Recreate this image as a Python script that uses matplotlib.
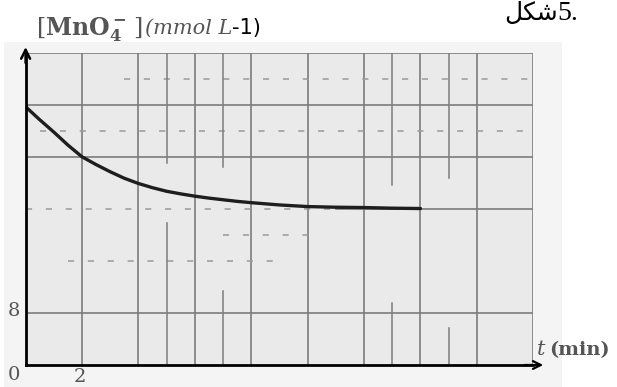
import numpy as np
import matplotlib
matplotlib.use("Agg")
import matplotlib.pyplot as plt
from matplotlib.patches import Rectangle

# data
t_min = [0, 0.5, 1, 1.5, 2, 2.5, 3, 3.5, 4, 4.5, 5, 5.5, 6, 6.5, 7, 7.5, 8,
         9, 10, 11, 12, 13, 14]
conc = [39.7, 37.7, 35.8, 33.8, 32.0, 30.8, 29.7, 28.7, 27.9, 27.25, 26.7, 26.3,
        25.95, 25.65, 25.4, 25.15, 24.95, 24.6, 24.35, 24.25, 24.2, 24.1, 24.05]

x_major = [2, 4, 6, 8, 10, 12, 14, 16, 18]
y_solid = [8, 32, 40, 48]
# broken (scanned) lines: value, start, end
y_broken = [(44, 3.5, 18), (36, 0.5, 18), (24, 0, 11), (20, 7, 10), (16, 1.5, 9)]
x_partial = [(5, 31, 48), (5, 0, 21.8), (7, 30.5, 48), (7, 0, 11.3),
             (13, 27.7, 48), (13, 0, 9.5), (15, 28.7, 48), (15, 0, 5.7)]

W, H = 617, 387
fig = plt.figure(figsize=(W / 100, H / 100), dpi=100)
fig.patch.set_facecolor("white")

def fx(px):
    return px / W

def fy(py):
    return 1 - py / H

# soft grey paper behind the chart
fig.patches.append(Rectangle((fx(4), 0), fx(562) - fx(4), fy(42), transform=fig.transFigure,
                             facecolor="#f4f4f4", edgecolor="none", zorder=-5))

left, right, top, bottom = 25.6, 533.3, 52.7, 365.0
ax = fig.add_axes([fx(left), fy(bottom), fx(right - left), (bottom - top) / H])
ax.set_zorder(1)
ax.set_xlim(0, 18)
ax.set_ylim(0, 48)
ax.set_facecolor("#eaeaea")
for s in ax.spines.values():
    s.set_visible(False)
ax.set_xticks([])
ax.set_yticks([])

gcol = "#7c7c7c"
for x in x_major:
    ax.axvline(x, color=gcol, lw=1.2, zorder=1)
for y in y_solid:
    ax.axhline(y, color=gcol, lw=1.2, zorder=1)
for y, a, b in y_broken:
    ax.plot([a, b], [y, y], color="#9a9a9a", lw=1.1, ls=(0, (4, 9)), zorder=1)
ax.plot([11, 18], [24, 24], color=gcol, lw=1.2, zorder=1)
for x, a, b in x_partial:
    ax.plot([x, x], [a, b], color=gcol, lw=1.1, zorder=1)

ax.plot(t_min, conc, color="#1e1e1e", lw=2.4, solid_capstyle="round",
        solid_joinstyle="round", zorder=3)

# axes with arrows
ax.plot([0, 0], [0, 48], color="black", lw=2.0, clip_on=False, zorder=4)
ax.plot([0, 18], [0, 0], color="black", lw=2.0, clip_on=False, zorder=4)
ax.annotate("", xy=(0, 49.3), xytext=(0, 46), xycoords="data",
            arrowprops=dict(arrowstyle="->", color="black", lw=1.8, mutation_scale=16),
            annotation_clip=False)
ax.annotate("", xy=(18.45, 0), xytext=(17.6, 0), xycoords="data",
            arrowprops=dict(arrowstyle="->", color="black", lw=1.6, mutation_scale=14),
            annotation_clip=False)

# axis numbers
lab = dict(family="DejaVu Serif", color="#555555", fontsize=14)
fig.text(fx(14), fy(311), "8", ha="center", va="center", **lab)
fig.text(fx(14), fy(375), "0", ha="center", va="center", **lab)
fig.text(fx(80), fy(377), "2", ha="center", va="center", **lab)

# y-axis title
plt.rcParams["mathtext.fontset"] = "dejavuserif"
t1 = fig.text(fx(36), fy(35), r"$\left[\mathbf{MnO_4^-}\,\right]$", color="#555555",
              fontsize=17, va="baseline", ha="left")
t2 = ax.annotate("(mmol L", xy=(1, 0), xycoords=t1, xytext=(1, 4), textcoords="offset points",
                 va="bottom", ha="left", family="DejaVu Serif", style="italic",
                 color="#555555", fontsize=15, annotation_clip=False)
ax.annotate("-1)", xy=(1, 0), xycoords=t2, xytext=(0, 0), textcoords="offset points",
            va="bottom", ha="left", family="DejaVu Sans", color="black", fontsize=15,
            annotation_clip=False)

# x-axis title
fig.text(fx(537), fy(355), "t", family="DejaVu Serif", style="italic",
         color="#555555", fontsize=15, va="baseline")
fig.text(fx(549), fy(355), "(min)", family="DejaVu Serif", weight="bold",
         color="#555555", fontsize=14, va="baseline")

# figure caption at the top edge as in the scan
fig.text(fx(558), fy(20), "\ufede\ufedc\ufeb7", family=["DejaVu Sans"],
         fontsize=18, color="black", va="baseline", ha="right")
fig.text(fx(557), fy(20), "5.", family=["Liberation Serif"],
         fontsize=20, color="black", va="baseline", ha="left")

fig.savefig("out.png", dpi=100, facecolor=fig.get_facecolor())
